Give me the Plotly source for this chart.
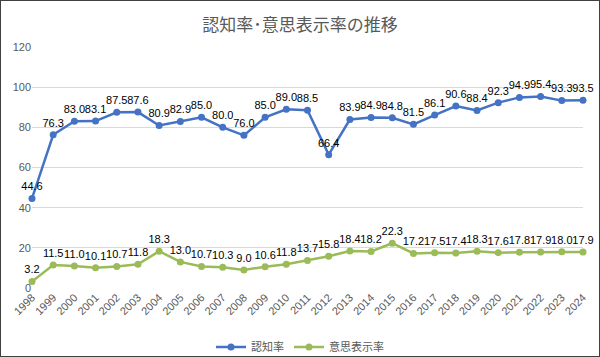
import plotly.graph_objects as go

years = [str(y) for y in range(1998, 2025)]
ninchi = [44.6, 76.3, 83.0, 83.1, 87.5, 87.6, 80.9, 82.9, 85.0, 80.0, 76.0, 85.0, 89.0, 88.5,
          66.4, 83.9, 84.9, 84.8, 81.5, 86.1, 90.6, 88.4, 92.3, 94.9, 95.4, 93.3, 93.5]
ishi = [3.2, 11.5, 11.0, 10.1, 10.7, 11.8, 18.3, 13.0, 10.7, 10.3, 9.0, 10.6, 11.8, 13.7,
        15.8, 18.4, 18.2, 22.3, 17.2, 17.5, 17.4, 18.3, 17.6, 17.8, 17.9, 18.0, 17.9]
y_ticks = [0, 20, 40, 60, 80, 100, 120]

FONT = "Liberation Sans, Noto Sans CJK JP, sans-serif"
BLUE = "#4472C4"
GREEN = "#9BBB59"

fig = go.Figure()
for name, vals, col in [("認知率", ninchi, BLUE), ("意思表示率", ishi, GREEN)]:
    fig.add_trace(go.Scatter(
        x=years, y=vals, name=name, mode="lines+markers+text",
        line=dict(color=col, width=2.5),
        marker=dict(color=col, size=7),
        text=[f"{v:.1f}" for v in vals], textposition="top center",
        textfont=dict(size=11, color="#000000", family=FONT),
        cliponaxis=False,
    ))

L, R, T, B = 32, 17, 47, 69
W, H = 600, 357

fig.update_layout(
    width=W, height=H,
    margin=dict(l=L, r=R, t=T, b=B, autoexpand=False),
    paper_bgcolor="white", plot_bgcolor="white",
    font=dict(family=FONT, color="#595959"),
    title=dict(text="認知率･意思表示率の推移", x=0.5, xanchor="center",
               y=1 - 25 / H, yanchor="middle", yref="container",
               font=dict(size=17, color="#595959", family="Noto Sans CJK JP, sans-serif")),
    xaxis=dict(type="category", range=[0, len(years) - 1], showgrid=False,
               tickangle=-45, tickfont=dict(size=11, color="#595959"),
               showline=False, zeroline=False, ticks=""),
    yaxis=dict(range=[0, 120], tickvals=y_ticks, showgrid=True, gridcolor="#D9D9D9",
               gridwidth=1, zeroline=False, showline=False,
               tickfont=dict(size=11, color="#595959"), ticks=""),
    legend=dict(orientation="h", x=0.5, xanchor="center", xref="container",
                y=1 - 347 / H, yanchor="middle", yref="container",
                font=dict(size=11, color="#595959", family="Noto Sans CJK JP, sans-serif")),
    showlegend=True,
)

fig.write_html("out.html", config={"displayModeBar": False})

with open("out.html", encoding="utf-8") as f:
    html = f.read()
css = ("<style>html,body{margin:0;padding:0;overflow:hidden;}"
       "body::after{content:'';position:fixed;left:0;top:0;width:600px;height:357px;"
       "box-sizing:border-box;border:1.5px solid #404040;pointer-events:none;}</style>")
html = html.replace("<head>", "<head>" + css, 1)
with open("out.html", "w", encoding="utf-8") as f:
    f.write(html)
